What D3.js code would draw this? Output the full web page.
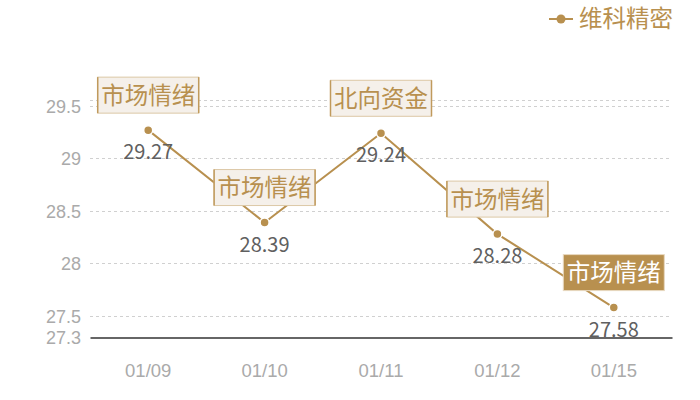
<!DOCTYPE html>
<html><head><meta charset="utf-8">
<script src="https://cdn.jsdelivr.net/npm/d3@7/dist/d3.min.js"></script>
<style>html,body{margin:0;padding:0;background:#fff;}svg{display:block;font-family:"Noto Sans CJK SC","Noto Sans",sans-serif;}</style>
</head><body>
<svg id="c" width="700" height="400"></svg>
<script>
const categories = ["01/09","01/10","01/11","01/12","01/15"];
const seriesName = "维科精密";
const values = [29.27, 28.39, 29.24, 28.28, 27.58];
const annotations = ["市场情绪","市场情绪","北向资金","市场情绪","市场情绪"];
const highlighted = [false,false,false,false,true];
const yTicks = [27.3, 27.5, 28, 28.5, 29, 29.5];
const yMin = 27.3, yMax = 29.557;

const gold = "#b8904f";
const svg = d3.select("#c");
const x = d3.scaleBand().domain(categories).range([90, 672]);
const y = d3.scaleLinear().domain([yMin, yMax]).range([337, 100]);
const cx = d => x(d) + x.bandwidth()/2;

// grid
const grid = yTicks.filter(t => t !== yMin).concat([yMax]);
svg.append("g").selectAll("line").data(grid).join("line")
  .attr("x1", 90).attr("x2", 672)
  .attr("y1", d => Math.round(y(d))+0.5).attr("y2", d => Math.round(y(d))+0.5)
  .attr("stroke", "#d0d0d0").attr("stroke-dasharray", "3,3").attr("stroke-width", 1);

// y axis labels
const yAxis = svg.append("g").attr("transform", "translate(90,0)")
  .call(d3.axisLeft(y).tickValues(yTicks).tickSize(0).tickPadding(9).tickFormat(d => String(d)));
yAxis.select(".domain").remove();
yAxis.selectAll("text").attr("fill", "#aaa").style("font-size", "18px").attr("dy", "0.35em");

// x axis
const xAxis = svg.append("g").attr("transform", "translate(0,337.5)")
  .call(d3.axisBottom(x).tickSize(0).tickPadding(26));
xAxis.select(".domain").attr("stroke", "#333").attr("stroke-width", 1.5);
xAxis.selectAll("text").attr("fill", "#aaa").style("font-size", "18.5px");

const pts = categories.map((c,i) => ({c, v: values[i], a: annotations[i], h: highlighted[i]}));

// line
svg.append("path").datum(pts)
  .attr("d", d3.line().x(d => cx(d.c)).y(d => y(d.v)))
  .attr("fill", "none").attr("stroke", gold).attr("stroke-width", 2);

// dots
svg.append("g").selectAll("circle").data(pts).join("circle")
  .attr("cx", d => cx(d.c)).attr("cy", d => y(d.v)).attr("r", 4.5)
  .attr("fill", gold).attr("stroke", "#fff").attr("stroke-width", 1.5);

// value labels
svg.append("g").selectAll("text").data(pts).join("text")
  .attr("x", d => cx(d.c)).attr("y", d => y(d.v) + 29)
  .attr("text-anchor", "middle").attr("fill", "#606060")
  .style("font-size", "20px").text(d => d.v.toFixed(2));

// annotation boxes
const bw = 101, bh = 36;
const ann = svg.append("g").selectAll("g").data(pts).join("g")
  .attr("transform", d => `translate(${cx(d.c)},${y(d.v) - 35})`);
ann.append("rect")
  .attr("x", -bw/2).attr("y", -bh/2).attr("width", bw).attr("height", bh)
  .attr("fill", d => d.h ? gold : "#f5f0ea")
  .attr("stroke", d => d.h ? "#e8d9c0" : "#dcc8a6").attr("stroke-width", 1);
ann.filter(d => !d.h).append("line")
  .attr("x1", -bw/2).attr("x2", -bw/2).attr("y1", -bh/2).attr("y2", bh/2)
  .attr("stroke", "#c09a5c").attr("stroke-width", 1.5);
ann.filter(d => !d.h).append("line")
  .attr("x1", bw/2).attr("x2", bw/2).attr("y1", -bh/2).attr("y2", bh/2)
  .attr("stroke", "#c09a5c").attr("stroke-width", 1.5);
ann.append("text")
  .attr("text-anchor", "middle").attr("dy", "0.36em")
  .attr("fill", d => d.h ? "#fff" : gold)
  .style("font-size", "23.5px").text(d => d.a);

// legend
const lg = svg.append("g").attr("transform", "translate(549,19)");
lg.append("line").attr("x1", 0).attr("x2", 24).attr("y1", 0).attr("y2", 0)
  .attr("stroke", gold).attr("stroke-width", 2);
lg.append("circle").attr("cx", 12).attr("cy", 0).attr("r", 4.5).attr("fill", gold);
lg.append("text").attr("x", 30).attr("dy", "0.36em").attr("fill", gold)
  .style("font-size", "23.5px").text(seriesName);
</script>
</body></html>
